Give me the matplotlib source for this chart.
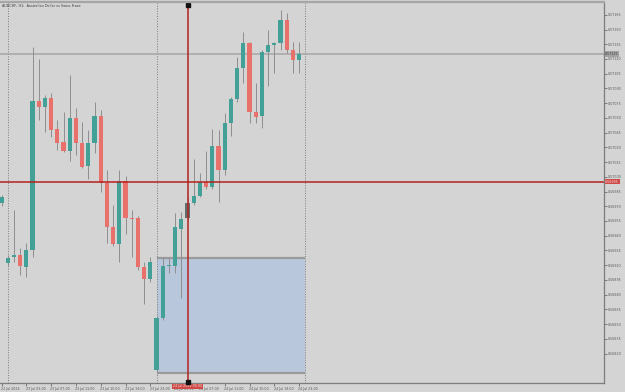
import matplotlib
matplotlib.use("Agg")
import matplotlib.pyplot as plt
from matplotlib.patches import Rectangle
import matplotlib.transforms as mtransforms

title = "AUDCHF, H1:  Australian Dollar vs Swiss Franc"

opens = [0.56973, 0.56912, 0.56918, 0.56920, 0.56908, 0.56925, 0.57077, 0.57071, 0.57080, 0.57049,
         0.57035, 0.57026, 0.57060, 0.57034, 0.57011, 0.57034, 0.57062, 0.56994, 0.56949, 0.56932,
         0.56996, 0.56958, 0.56958, 0.56908, 0.56896, 0.56803, 0.56856, 0.56909, 0.56909, 0.56947,
         0.56958, 0.56973, 0.56980, 0.56995, 0.56990, 0.57031, 0.57007, 0.57055, 0.57079, 0.57111,
         0.57136, 0.57066, 0.57062, 0.57127, 0.57134, 0.57136, 0.57160, 0.57129, 0.57119]
highs = [0.56981, 0.56920, 0.56966, 0.56927, 0.56933, 0.57132, 0.57120, 0.57083, 0.57085, 0.57058,
         0.57066, 0.57104, 0.57070, 0.57056, 0.57048, 0.57076, 0.57068, 0.57007, 0.56971, 0.57007,
         0.57001, 0.56966, 0.56960, 0.56913, 0.56918, 0.56858, 0.56918, 0.56917, 0.56963, 0.56964,
         0.56979, 0.57018, 0.57004, 0.57026, 0.57049, 0.57048, 0.57065, 0.57081, 0.57122, 0.57147,
         0.57137, 0.57096, 0.57129, 0.57150, 0.57137, 0.57170, 0.57167, 0.57137, 0.57137]
lows = [0.56970, 0.56909, 0.56913, 0.56900, 0.56898, 0.56918, 0.57058, 0.57046, 0.57041, 0.57027,
        0.57025, 0.57016, 0.57022, 0.57009, 0.56998, 0.57024, 0.56985, 0.56933, 0.56930, 0.56913,
        0.56942, 0.56918, 0.56905, 0.56870, 0.56893, 0.56801, 0.56854, 0.56902, 0.56902, 0.56877,
        0.56956, 0.56971, 0.56979, 0.56988, 0.56988, 0.56974, 0.57002, 0.57042, 0.57076, 0.57096,
        0.57055, 0.57055, 0.57050, 0.57092, 0.57106, 0.57129, 0.57126, 0.57106, 0.57106]
closes = [0.56979, 0.56917, 0.56920, 0.56909, 0.56925, 0.57077, 0.57071, 0.57080, 0.57048, 0.57034,
          0.57026, 0.57060, 0.57034, 0.57010, 0.57034, 0.57062, 0.56994, 0.56949, 0.56932, 0.56996,
          0.56958, 0.56957, 0.56908, 0.56896, 0.56913, 0.56856, 0.56909, 0.56910, 0.56949, 0.56957,
          0.56973, 0.56980, 0.56995, 0.56990, 0.57031, 0.57007, 0.57055, 0.57079, 0.57111, 0.57136,
          0.57066, 0.57061, 0.57127, 0.57134, 0.57136, 0.57160, 0.57129, 0.57119, 0.57125]

ytick_vals = [0.57165, 0.57150, 0.57135, 0.57120, 0.57105, 0.57090, 0.57075, 0.57060, 0.57045,
              0.57030, 0.57015, 0.57000, 0.56985, 0.56970, 0.56955, 0.56940, 0.56925, 0.56910,
              0.56895, 0.56880, 0.56865, 0.56850, 0.56835, 0.56820]
xtick_pos = [0, 4, 8, 12, 16, 20, 24, 28, 32, 36, 40, 44, 48]
xtick_labels = ["22 Jul 2024", "23 Jul 03:00", "23 Jul 07:00", "23 Jul 11:00", "23 Jul 15:00",
                "23 Jul 19:00", "23 Jul 23:00", "24 Jul 03:00", "24 Jul 07:00", "24 Jul 11:00",
                "24 Jul 15:00", "24 Jul 19:00", "24 Jul 23:00"]
day_separators = [1, 25, 49]
rect_x = [25, 49]
rect_y = [0.56800, 0.56917]
cross_x = 30
cross_y = 0.56995
cross_time = "24 Jul 2024 05:00"
cross_price = "0.56995"
current_price = 0.57125
highlight_bar = 30

BG = "#d4d4d4"
UP = "#43a097"
DOWN = "#e9716b"
WICK = "#8e8e8e"
FS = 2.3

W, H = 625, 392
AX_RIGHT = 604
fig = plt.figure(figsize=(6.25, 3.92), dpi=100, facecolor=BG)
ax = fig.add_axes([0.0, 9 / H, AX_RIGHT / W, 380 / H])
ax.set_facecolor(BG)

xmin = (0 - 1.5) / 6.2
xmax = (AX_RIGHT - 1.5) / 6.2
ax.set_xlim(xmin, xmax)
ax.set_ylim(0.56790, 0.57177)

# rectangle object
ax.add_patch(Rectangle((rect_x[0], rect_y[0]), rect_x[1] - rect_x[0], rect_y[1] - rect_y[0],
                       facecolor="#b9c7dc", edgecolor="none", zorder=1))
ax.hlines(rect_y, rect_x[0], rect_x[1], colors="#9a9a9a", lw=1.6, zorder=1.5)

# day separators
for d in day_separators:
    ax.axvline(d, color="#7a7a7a", lw=0.7, ls=(0, (1, 1.6)), zorder=1.6)

# current price line
ax.axhline(current_price, color="#a9a9a9", lw=1.2, zorder=1.7)

# candles
bw = 0.66
for i, (o, h, l, c) in enumerate(zip(opens, highs, lows, closes)):
    col = UP if c >= o else DOWN
    if i == highlight_bar:
        col = "#5f6f6d"
    ax.vlines(i, l, h, colors=WICK, lw=0.7, zorder=2)
    bottom = min(o, c)
    height = max(abs(c - o), 0.000012)
    ax.bar(i, height, bw, bottom=bottom, color=col, zorder=3, linewidth=0)

# crosshair
ax.axvline(cross_x, color="#b3221f", lw=1.1, zorder=4)
ax.axhline(cross_y, color="#b3221f", lw=1.1, zorder=4)

# axes styling
for s in ["left", "top"]:
    ax.spines[s].set_visible(False)
ax.spines["right"].set_color("#7c7c7c")
ax.spines["bottom"].set_color("#7c7c7c")
ax.spines["right"].set_linewidth(0.9)
ax.spines["bottom"].set_linewidth(0.9)

ax.yaxis.tick_right()
ax.set_yticks(ytick_vals)
ax.set_yticklabels([f"{v:.5f}" for v in ytick_vals])
ax.tick_params(axis="y", direction="out", length=2.0, width=0.6, colors="#6a6a6a",
               labelsize=FS, pad=0.6, labelcolor="#555555")
ax.set_xticks(xtick_pos)
ax.set_xticklabels(xtick_labels, ha="left")
ax.tick_params(axis="x", direction="out", length=2.0, width=0.6, colors="#6a6a6a",
               labelsize=FS, pad=0.8, labelcolor="#555555")
offset = mtransforms.ScaledTranslation(-0.8 / 100, 0, fig.dpi_scale_trans)
for lbl in ax.get_xticklabels():
    lbl.set_horizontalalignment("left")
    lbl.set_transform(lbl.get_transform() + offset)

# top border
fig.add_artist(plt.Line2D([0, AX_RIGHT / W], [1 - 2 / H, 1 - 2 / H], color="#a6a6a6", lw=1.6))

# title
fig.text(2 / W, 1 - 6 / H, title, fontsize=FS + 0.1, color="#3c3c3c", va="center", ha="left")

# right axis labels for lines
trans = mtransforms.blended_transform_factory(ax.transAxes, ax.transData)
ax.text(1.002, current_price, f"{current_price:.5f}", transform=trans, fontsize=FS,
        color="#3a3a3a", va="center", ha="left", clip_on=False, zorder=6,
        bbox=dict(boxstyle="square,pad=0.2", fc="#a3a3a3", ec="none"))
ax.text(1.002, cross_y, cross_price, transform=trans, fontsize=FS,
        color="#f4dede", va="center", ha="left", clip_on=False, zorder=6,
        bbox=dict(boxstyle="square,pad=0.2", fc="#cf4a47", ec="none"))

# crosshair time label
transx = mtransforms.blended_transform_factory(ax.transData, fig.transFigure)
ax.text(cross_x, 1 - 386.5 / H, cross_time, transform=transx, fontsize=FS, color="#f4dede",
        va="center", ha="center", clip_on=False, zorder=7,
        bbox=dict(boxstyle="square,pad=0.3", fc="#cf4a47", ec="none"))
# small markers at crosshair ends
ax.plot([cross_x], [1 - 5 / H], marker="s", ms=2.2, color="#111111", transform=transx,
        clip_on=False, zorder=8)
ax.plot([cross_x], [1 - 382 / H], marker="s", ms=2.2, color="#111111", transform=transx,
        clip_on=False, zorder=8)

fig.savefig("out.png", dpi=100, facecolor=BG)
